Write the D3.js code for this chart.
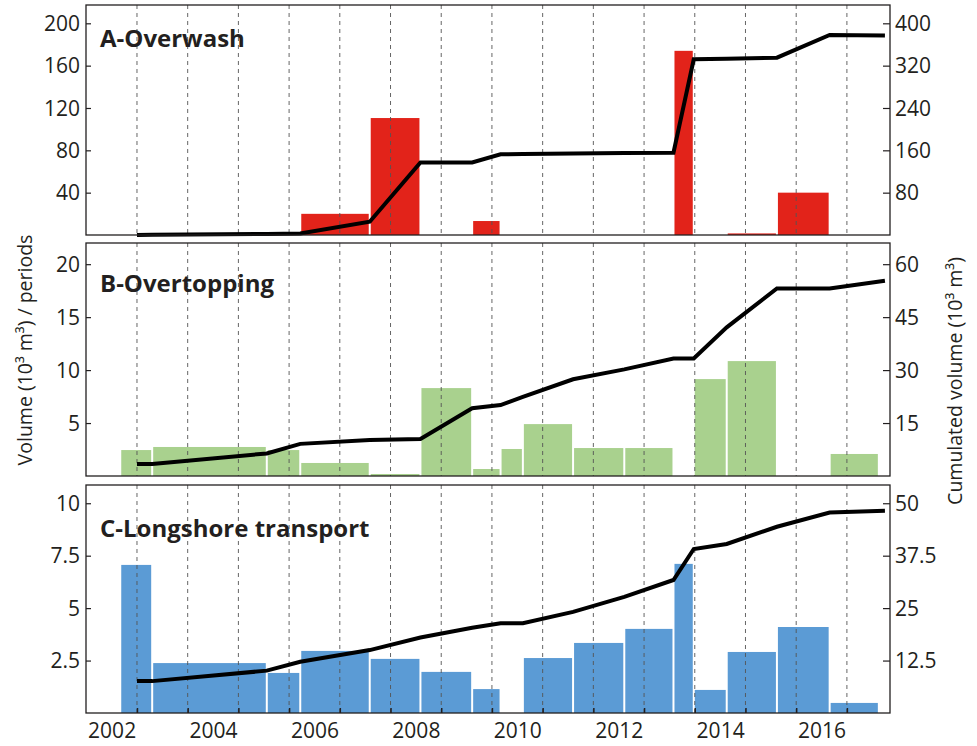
<!DOCTYPE html>
<html>
<head>
<meta charset="utf-8">
<script src="https://cdn.jsdelivr.net/npm/d3@7/dist/d3.min.js"></script>
<style>
body { margin: 0; background: #fff; }
text { font-family: "Open Sans", sans-serif; fill: #231f20; }
</style>
</head>
<body>
<div id="chart"></div>
<script>
// survey dates (decimal years) that bound each period
const periodBounds = [2002.17, 2002.80, 2005.06, 2005.72, 2007.09, 2008.09, 2009.11, 2009.67,
                      2010.11, 2011.10, 2012.11, 2013.08, 2013.48, 2014.13, 2015.12, 2016.16, 2017.13];
// dates of the cumulated curve points
const cumDates = [2002.50, 2002.80, 2005.06, 2005.72, 2007.09, 2008.09, 2009.11, 2009.67,
                  2010.11, 2011.10, 2012.11, 2013.08, 2013.48, 2014.13, 2015.12, 2016.16, 2017.25];

// volumes per period (10^3 m3)
const overwashVol    = [0, 0, 0, 20, 110.5, 0, 13.2, 0, 0, 0, 0, 174, 0, 1.5, 40, 0];
const overtoppingVol = [2.45, 2.74, 2.45, 1.23, 0.19, 8.3, 0.66, 2.55, 4.9, 2.64, 2.64, 0, 9.15, 10.85, 0, 2.08];
const longshoreVol   = [7.06, 2.38, 1.91, 2.96, 2.58, 1.96, 1.14, 0, 2.62, 3.34, 4.01, 7.11, 1.10, 2.91, 4.1, 0.48];

// cumulated volumes (10^3 m3)
const overwashCum    = [0, 0.5, 2, 3, 25, 137, 137, 152.5, 153, 154, 155, 155.5, 332, 333, 335, 378, 377];
const overtoppingCum = [3.4, 3.4, 6.4, 9.1, 10.2, 10.5, 19.2, 20.1, 22.4, 27.4, 30.2, 33.3, 33.3, 42.1, 53.1, 53.1, 55.3];
const longshoreCum   = [7.6, 7.6, 10.1, 12.2, 15.0, 18.0, 20.3, 21.4, 21.4, 24.1, 27.7, 31.7, 39.1, 40.3, 44.4, 47.8, 48.2];

// ticks
const yearLabels = [2002, 2004, 2006, 2008, 2010, 2012, 2014, 2016];
const gridYears = [2002.5, 2003.5, 2004.5, 2005.5, 2006.5, 2007.5, 2008.5, 2009.5,
                   2010.5, 2011.5, 2012.5, 2013.5, 2014.5, 2015.5, 2016.5];
const overwashTicks = [40, 80, 120, 160, 200];
const overwashCumTicks = [80, 160, 240, 320, 400];
const overtoppingTicks = [5, 10, 15, 20];
const overtoppingCumTicks = [15, 30, 45, 60];
const longshoreTicks = [2.5, 5, 7.5, 10];
const longshoreCumTicks = [12.5, 25, 37.5, 50];

const width = 977,
      height = 746,
      left = 86,
      right = 890;

const panels = [
  { title: 'A-Overwash', vol: overwashVol, cum: overwashCum, color: '#e2231a',
    top: 5, bottom: 235, yMax: 217.3, ratio: 2, ticks: overwashTicks, cumTicks: overwashCumTicks, ty: 47 },
  { title: 'B-Overtopping', vol: overtoppingVol, cum: overtoppingCum, color: '#a9d18e',
    top: 243, bottom: 476, yMax: 22, ratio: 3, ticks: overtoppingTicks, cumTicks: overtoppingCumTicks, ty: 292 },
  { title: 'C-Longshore transport', vol: longshoreVol, cum: longshoreCum, color: '#5b9bd5',
    top: 485, bottom: 713, yMax: 10.87, ratio: 5, ticks: longshoreTicks, cumTicks: longshoreCumTicks, ty: 537 }
];

var svg = d3.select('#chart')
            .append('svg')
            .attr('width', width)
            .attr('height', height);

var x = d3.scaleLinear()
          .domain([2001.475, 2017.35])
          .range([85, 890]);

panels.forEach(function (p, k) {
  var y = d3.scaleLinear().domain([0, p.yMax]).range([p.bottom, p.top]);
  var yR = d3.scaleLinear().domain([0, p.yMax * p.ratio]).range([p.bottom, p.top]);
  var g = svg.append('g');

  //bars, one per period
  var periods = p.vol.map(function (v, i) {
    return { v: v, x0: periodBounds[i], x1: periodBounds[i + 1] };
  }).filter(function (d) { return d.v > 0; });

  g.selectAll('rect.bar')
   .data(periods)
   .enter()
   .append('rect')
   .attr('class', 'bar')
   .attr('x', function (d) { return x(d.x0) + 1; })
   .attr('width', function (d) { return x(d.x1) - x(d.x0) - 2; })
   .attr('y', function (d) { return y(d.v); })
   .attr('height', function (d) { return y(0) - y(d.v); })
   .attr('fill', p.color);

  //dashed year lines
  g.selectAll('line.grid')
   .data(gridYears)
   .enter()
   .append('line')
   .attr('class', 'grid')
   .attr('x1', function (d) { return x(d); })
   .attr('x2', function (d) { return x(d); })
   .attr('y1', p.top)
   .attr('y2', p.bottom)
   .attr('stroke', '#555')
   .attr('stroke-width', 0.9)
   .attr('stroke-dasharray', '4,4');

  //cumulated curve
  var line = d3.line()
               .x(function (d, i) { return x(cumDates[i]); })
               .y(function (d) { return yR(d); });
  g.append('path')
   .datum(p.cum)
   .attr('d', line)
   .attr('fill', 'none')
   .attr('stroke', '#000')
   .attr('stroke-width', 4);

  //left axis
  var ax = g.append('g')
            .attr('transform', 'translate(' + left + ',0)')
            .call(d3.axisLeft(y).tickValues(p.ticks).tickSize(-5).tickPadding(6)
                    .tickFormat(d3.format('')));
  ax.select('.domain').remove();

  //right axis
  var axR = g.append('g')
             .attr('transform', 'translate(' + right + ',0)')
             .call(d3.axisRight(yR).tickValues(p.cumTicks).tickSize(-7).tickPadding(5)
                     .tickFormat(d3.format('')));
  axR.select('.domain').remove();

  [ax, axR].forEach(function (a) {
    a.selectAll('line').attr('stroke', '#231f20').attr('stroke-width', 1.2);
    a.selectAll('text').style('font-size', '21px').attr('dy', '0.34em');
  });

  //frame
  g.append('rect')
   .attr('x', left)
   .attr('y', p.top)
   .attr('width', right - left)
   .attr('height', p.bottom - p.top)
   .attr('fill', 'none')
   .attr('stroke', '#231f20')
   .attr('stroke-width', 1.3);

  //panel title
  g.append('text')
   .text(p.title)
   .attr('x', 100)
   .attr('y', p.ty)
   .style('font-size', '24px')
   .style('font-weight', 'bold');

  //bottom axis only on last panel
  if (k === panels.length - 1) {
    var bx = g.append('g')
              .attr('transform', 'translate(0,' + p.bottom + ')')
              .call(d3.axisBottom(x).tickValues(yearLabels).tickSize(0).tickPadding(10)
                      .tickFormat(d3.format('d')));
    bx.select('.domain').remove();
    bx.selectAll('text').style('font-size', '21px');

    var bt = g.append('g')
              .attr('transform', 'translate(0,' + p.bottom + ')')
              .call(d3.axisBottom(x).tickValues(gridYears).tickSize(-5).tickFormat(''));
    bt.select('.domain').remove();
    bt.selectAll('line').attr('stroke', '#231f20').attr('stroke-width', 1.5);
  }
});

//axis titles
svg.append('text')
   .text('Volume (10³ m³) / periods')
   .attr('transform', 'translate(32,350) rotate(-90)')
   .style('text-anchor', 'middle')
   .style('font-size', '19.5px');

svg.append('text')
   .text('Cumulated volume (10³ m³)')
   .attr('transform', 'translate(962,381) rotate(-90)')
   .style('text-anchor', 'middle')
   .style('font-size', '19.5px');
</script>
</body>
</html>
